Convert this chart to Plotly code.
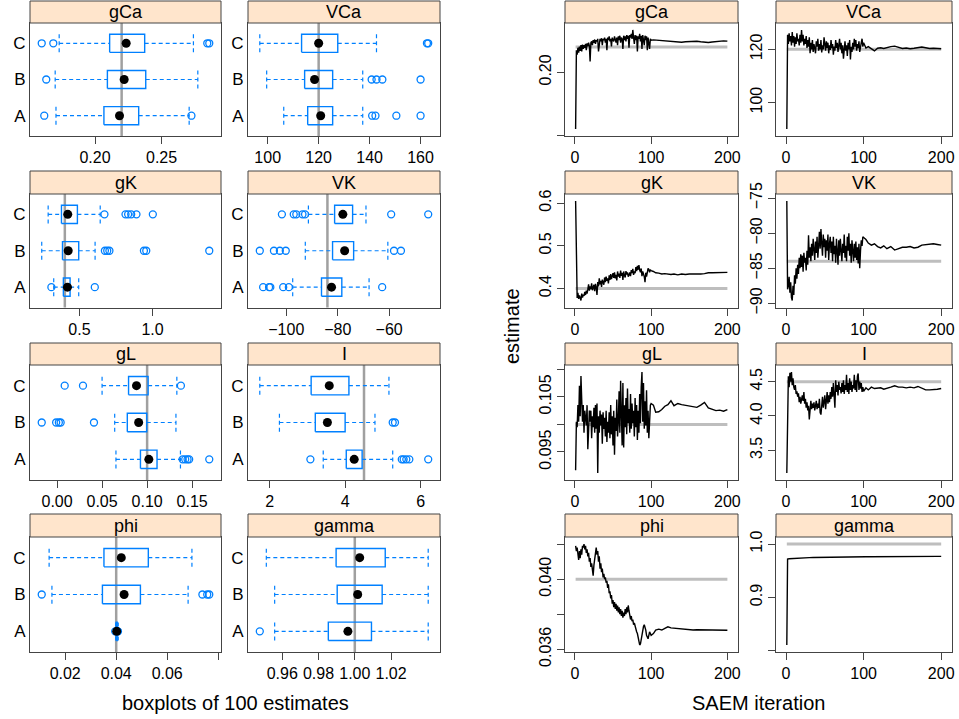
import plotly.graph_objects as go

W, H = 959, 719
groups = ['A', 'B', 'C']
params = ['gCa', 'VCa', 'gK', 'VK', 'gL', 'I', 'phi', 'gamma']
true_vals = [0.22, 120, 0.4, -84, 0.1, 4.5, 0.04, 1.0]

# ---- boxplot statistics: rows A, B, C -> [lower whisker, Q1, median, Q3, upper whisker]
gCa_stats = [[0.1707, 0.2067, 0.2184, 0.2328, 0.2707],
             [0.1701, 0.2093, 0.2219, 0.2381, 0.2772],
             [0.1731, 0.2110, 0.2234, 0.2373, 0.2739]]
gCa_out = [[0.1619, 0.2724], [0.1634], [0.1600, 0.1687, 0.2843, 0.2858]]

VCa_stats = [[106.3, 115.7, 120.8, 125.5, 137.3],
             [99.6, 114.5, 118.4, 125.5, 137.3],
             [96.9, 113.3, 120.0, 127.5, 142.7]]
VCa_out = [[141.0, 142.3, 150.5, 160.0], [140.8, 142.7, 145.0, 160.0], [162.5, 163.0]]

gK_stats = [[0.324, 0.390, 0.418, 0.436, 0.495],
            [0.242, 0.384, 0.423, 0.495, 0.607],
            [0.286, 0.377, 0.420, 0.486, 0.642]]
gK_out = [[0.308, 0.605], [0.674, 0.690, 0.705, 0.941, 0.957, 1.388],
          [0.671, 0.815, 0.833, 0.854, 0.890, 1.002]]

VK_stats = [[-97.5, -86.3, -82.4, -78.4, -67.8],
            [-92.6, -82.0, -77.3, -73.8, -60.5],
            [-91.4, -81.2, -78.0, -74.2, -69.0]]
VK_out = [[-109.0, -106.7, -106.2, -101.2, -99.0, -62.7],
          [-110.3, -104.8, -102.5, -100.2, -58.1, -55.4],
          [-101.7, -97.1, -96.1, -93.7, -92.7, -59.2, -44.8]]

gL_stats = [[0.0654, 0.0926, 0.1019, 0.1110, 0.1370],
            [0.0640, 0.0780, 0.0906, 0.0996, 0.1320],
            [0.0500, 0.0794, 0.0882, 0.1011, 0.1330]]
gL_out = [[0.1394, 0.1423, 0.1449, 0.1467, 0.1690],
          [-0.0170, -0.0010, 0.0020, 0.0040, 0.0410],
          [0.0085, 0.0288, 0.1375]]

I_stats = [[3.42, 4.03, 4.24, 4.45, 5.26],
           [2.26, 3.21, 3.53, 4.00, 4.79],
           [1.74, 3.10, 3.58, 4.10, 5.16]]
I_out = [[3.08, 5.50, 5.55, 5.62, 5.70, 6.20], [5.26, 5.32], []]

phi_stats = [[0.0398, 0.0400, 0.0402, 0.0404, 0.0408],
             [0.0148, 0.0346, 0.0431, 0.0495, 0.0682],
             [0.0137, 0.0352, 0.0420, 0.0526, 0.0697]]
phi_out = [[0.0396, 0.0406, 0.0407], [0.0108, 0.0738, 0.0757, 0.0765], []]

gamma_stats = [[0.9558, 0.9854, 0.9962, 1.0092, 1.0405],
               [0.9558, 0.9903, 1.0016, 1.0151, 1.0405],
               [0.9512, 0.9897, 1.0027, 1.0168, 1.0405]]
gamma_out = [[0.9476], [], []]

# ---- box-panel x ticks
box_tickvals = [[0.20, 0.25], [100, 120, 140, 160], [0.5, 1.0], [-100, -80, -60],
                [0.00, 0.05, 0.10, 0.15], [2, 4, 6], [0.02, 0.04, 0.06, 0.08],
                [0.96, 0.98, 1.00, 1.02]]
box_ticktext = [['0.20', '0.25'], ['100', '120', '140', '160'], ['0.5', '1.0'],
                ['\u2212100', '\u221280', '\u221260'], ['0.00', '0.05', '0.10', '0.15'],
                ['2', '4', '6'], ['0.02', '0.04', '0.06', ''], ['0.96', '0.98', '1.00', '1.02']]

# ---- SAEM traces
early_iter = list(range(1, 101))
late_iter = [103, 106, 110, 114, 118, 122, 126, 130, 135, 140, 145, 150, 155, 160,
             165, 170, 175, 180, 185, 190, 195, 200]

gCa_early = [0.155, 0.2175, 0.214, 0.2195, 0.2155, 0.2205, 0.217, 0.2215, 0.2165, 0.222,
             0.2185, 0.2215, 0.2195, 0.2225, 0.2175, 0.223, 0.2205, 0.2235, 0.221, 0.2085,
             0.2235, 0.2245, 0.2215, 0.2255, 0.2235, 0.226, 0.2225, 0.2255, 0.2245, 0.2265,
             0.2165, 0.2255, 0.2265, 0.2245, 0.227, 0.2215, 0.2265, 0.2255, 0.2275, 0.2235,
             0.2265, 0.2175, 0.2275, 0.2255, 0.2285, 0.2245, 0.2265, 0.2205, 0.2275, 0.2255,
             0.2245, 0.2285, 0.2265, 0.2235, 0.2275, 0.2215, 0.2285, 0.2255, 0.229, 0.2235,
             0.2275, 0.2265, 0.2185, 0.229, 0.2255, 0.2285, 0.2245, 0.2295, 0.2265, 0.229,
             0.2195, 0.2295, 0.2275, 0.2305, 0.2265, 0.2336, 0.2275, 0.2225, 0.2295, 0.2255,
             0.229, 0.2165, 0.2285, 0.2265, 0.2305, 0.2245, 0.229, 0.2185, 0.2295, 0.2265,
             0.2215, 0.229, 0.2255, 0.2285, 0.2175, 0.2275, 0.2245, 0.2185, 0.2265, 0.2255]
gCa_late = [0.2257, 0.2255, 0.2252, 0.2254, 0.2250, 0.2247, 0.2244, 0.2240, 0.2236, 0.2238,
            0.2242, 0.2245, 0.2243, 0.2246, 0.2242, 0.2238, 0.2236, 0.2240, 0.2244, 0.2247,
            0.2249, 0.2247]

VCa_early = [90, 125.5, 122, 126, 123, 125, 121.5, 126.5, 122.5, 125,
             121, 124.5, 122, 126, 123, 124, 121.5, 125.5, 122.5, 127.3,
             123, 125.5, 121.5, 124, 122, 125, 120.5, 123.5, 121, 124.5,
             118.5, 122.5, 120, 123.5, 119, 122, 120.5, 118.5, 123, 121,
             124, 119.5, 122, 120, 123.5, 118.8, 121.5, 120, 124.5, 121,
             119.5, 123, 120.5, 122.5, 118.5, 121.5, 119.8, 123.5, 120.5, 122,
             118, 121, 119.5, 123.5, 120.5, 122.5, 119, 121.5, 124, 120,
             122.5, 118.5, 121.5, 116.5, 120.5, 123, 119.5, 121.5, 117.5, 122.5,
             120, 123.5, 116.2, 121, 119, 122.5, 120, 124, 121, 123.5,
             119.5, 122, 120.5, 123, 119, 121.5, 122.5, 124, 121, 122.5]
VCa_late = [120.5, 121, 120.2, 119.4, 120.4, 120.6, 120.3, 120.7, 121, 121.2, 120.6,
            120.3, 120.5, 120.2, 120.4, 120.7, 120.9, 120.6, 120.3, 120.4, 120.3, 120.2]

gK_early = [0.605, 0.385, 0.378, 0.39, 0.376, 0.384, 0.38, 0.372, 0.388, 0.379,
            0.386, 0.383, 0.392, 0.385, 0.395, 0.388, 0.398, 0.41, 0.395, 0.405,
            0.399, 0.412, 0.396, 0.404, 0.409, 0.394, 0.411, 0.403, 0.385, 0.415,
            0.405, 0.424, 0.41, 0.418, 0.404, 0.421, 0.413, 0.409, 0.426, 0.415,
            0.428, 0.418, 0.424, 0.412, 0.431, 0.42, 0.434, 0.422, 0.429, 0.436,
            0.425, 0.438, 0.424, 0.432, 0.419, 0.44, 0.428, 0.435, 0.425, 0.442,
            0.43, 0.437, 0.42, 0.44, 0.431, 0.426, 0.441, 0.433, 0.438, 0.428,
            0.432, 0.438, 0.429, 0.443, 0.436, 0.446, 0.432, 0.44, 0.436, 0.45,
            0.441, 0.453, 0.444, 0.455, 0.443, 0.438, 0.447, 0.429, 0.44, 0.434,
            0.428, 0.415, 0.437, 0.428, 0.441, 0.447, 0.445, 0.438, 0.444, 0.442]
gK_late = [0.440, 0.437, 0.436, 0.434, 0.435, 0.434, 0.433, 0.434, 0.432, 0.434, 0.433,
           0.434, 0.434, 0.433, 0.434, 0.435, 0.437, 0.437, 0.437, 0.438, 0.438, 0.438]

VK_early = [-75.4, -88, -87.5, -86.2, -88.5, -87, -89.2, -89.6, -87.5, -88.8,
            -86, -87.2, -85, -86.5, -84.5, -85.8, -83.5, -85, -83, -84.8,
            -83.2, -85.5, -82.8, -84.2, -83.5, -85.3, -82.5, -84.5, -80.3, -83.5,
            -82, -84, -81.5, -83.2, -80.8, -82.5, -83.8, -81.2, -82.8, -80.5,
            -83.5, -81.8, -79.8, -82.2, -79.4, -81.5, -83.2, -80.2, -82, -80.8,
            -83.5, -81, -82.5, -80.2, -83.8, -81.5, -80.5, -82.8, -81.2, -84,
            -80.5, -83, -81.8, -84.2, -80.8, -82.5, -84.5, -81, -83.2, -80.8,
            -82.2, -84, -81.5, -82.8, -80.2, -83.5, -81.8, -84, -80.5, -82.5,
            -80, -83.2, -81.5, -84.2, -81, -82.8, -84, -81.5, -83.5, -81.2,
            -83.8, -82, -84.3, -81.5, -85, -82.5, -81, -81.8, -80.5, -80.6]
VK_late = [-80.9, -81.4, -81.7, -81.5, -81.9, -82.1, -81.8, -82.2, -81.9, -82.4, -82.2,
           -82.0, -82.0, -81.9, -82.1, -82.0, -81.7, -81.6, -81.5, -81.5, -81.6, -81.7]

gL_early = [0.0917, 0.1005, 0.0995, 0.1035, 0.1005, 0.107, 0.1015, 0.1088, 0.1045, 0.1005,
            0.1035, 0.0985, 0.1025, 0.1015, 0.0998, 0.1035, 0.0955, 0.0988, 0.1025, 0.1005,
            0.1025, 0.0975, 0.1015, 0.0995, 0.103, 0.0985, 0.1035, 0.0992, 0.1038, 0.0912,
            0.1015, 0.0985, 0.1025, 0.0998, 0.1018, 0.0965, 0.1022, 0.0992, 0.1012, 0.0978,
            0.1025, 0.0968, 0.1005, 0.0985, 0.1022, 0.0975, 0.1035, 0.0982, 0.1015, 0.0962,
            0.1025, 0.0945, 0.1012, 0.0988, 0.1045, 0.0978, 0.1005, 0.106, 0.0985, 0.1079,
            0.1015, 0.0962, 0.1075, 0.0958, 0.1035, 0.0995, 0.1048, 0.0982, 0.1065, 0.1002,
            0.1028, 0.0985, 0.1055, 0.0992, 0.1038, 0.1002, 0.1025, 0.0978, 0.1048, 0.0995,
            0.1035, 0.0972, 0.1025, 0.0985, 0.1055, 0.1002, 0.1068, 0.1095, 0.1005, 0.1075,
            0.0992, 0.1042, 0.0998, 0.1062, 0.0985, 0.1025, 0.0975, 0.1018, 0.1035, 0.1038]
gL_late = [0.1035, 0.1022, 0.1023, 0.1027, 0.1033, 0.1036, 0.1043, 0.1034, 0.1038, 0.1036,
           0.1035, 0.1034, 0.1033, 0.1031, 0.1035, 0.1040, 0.1030, 0.1028, 0.1025, 0.1026,
           0.1024, 0.1027]

I_early = [3.17, 4.45, 4.58, 4.42, 4.63, 4.5, 4.64, 4.45, 4.55, 4.42,
           4.38, 4.45, 4.32, 4.36, 4.28, 4.33, 4.2, 4.28, 4.18, 4.24,
           4.3, 4.22, 4.35, 4.18, 4.25, 4.12, 4.2, 4.08, 4.15, 3.95,
           4.12, 4.22, 4.1, 4.18, 4.12, 4.2, 4.08, 4.15, 4.22, 4.1,
           4.18, 4.12, 4.25, 4.05, 4.02, 4.15, 4.28, 4.12, 4.22, 4.3,
           4.1, 4.25, 4.35, 4.18, 4.3, 4.2, 4.35, 4.25, 4.42, 4.28,
           4.48, 4.3, 4.12, 4.52, 4.35, 4.45, 4.3, 4.5, 4.38, 4.42,
           4.33, 4.48, 4.35, 4.52, 4.32, 4.45, 4.38, 4.6, 4.35, 4.48,
           4.32, 4.55, 4.38, 4.5, 4.35, 4.45, 4.4, 4.6, 4.38, 4.52,
           4.35, 4.58, 4.62, 4.38, 4.5, 4.4, 4.48, 4.35, 4.42, 4.36]
I_late = [4.41, 4.38, 4.42, 4.40, 4.41, 4.41, 4.39, 4.40, 4.42, 4.44, 4.42,
          4.42, 4.41, 4.42, 4.41, 4.43, 4.40, 4.38, 4.38, 4.38, 4.39, 4.40]

phi_early = [0.0419, 0.0416, 0.0418, 0.0413, 0.0411, 0.0416, 0.0412, 0.0417, 0.0414, 0.0419,
             0.0418, 0.042, 0.0417, 0.0419, 0.0415, 0.0417, 0.0413, 0.0415, 0.041, 0.0412,
             0.0407, 0.0409, 0.0404, 0.0402, 0.0408, 0.0411, 0.0415, 0.0418, 0.0414, 0.0416,
             0.041, 0.0413, 0.0406, 0.0409, 0.0404, 0.0406, 0.0401, 0.0403, 0.04, 0.0401,
             0.0398, 0.0399, 0.0395, 0.0397, 0.0392, 0.0393, 0.0389, 0.0391, 0.0386, 0.0388,
             0.0384, 0.0387, 0.0383, 0.0386, 0.0382, 0.0385, 0.0381, 0.0384, 0.038, 0.0383,
             0.0379, 0.0382, 0.0378, 0.0381, 0.0379, 0.0383, 0.038, 0.0384, 0.0381, 0.0385,
             0.0382, 0.0379, 0.0377, 0.0379, 0.0376, 0.0377, 0.0374, 0.0375, 0.0373, 0.0372,
             0.037, 0.0369, 0.0367, 0.0364, 0.03625, 0.0363, 0.0366, 0.0369, 0.0371, 0.0373,
             0.0374, 0.0373, 0.0371, 0.0368, 0.0367, 0.0366, 0.0368, 0.037, 0.0369, 0.0368]
phi_late = [0.0369, 0.0371, 0.03715, 0.0371, 0.0372, 0.03728, 0.03722, 0.0372, 0.03718,
            0.03716, 0.03714, 0.0371, 0.0371, 0.03712, 0.03712, 0.0371, 0.03712, 0.03711,
            0.0371, 0.03711, 0.0371, 0.03709]

gamma_iter = [1, 2, 4, 8, 12, 16, 20, 25, 30, 35, 40, 45, 50, 55, 60, 65, 70, 75, 80,
              85, 90, 95, 100]
gamma_early = [0.811, 0.972, 0.9725, 0.973, 0.9735, 0.9738, 0.974, 0.9743, 0.9745, 0.9748,
               0.975, 0.9752, 0.9753, 0.9755, 0.9756, 0.9757, 0.9758, 0.9758, 0.976, 0.976,
               0.9761, 0.9762, 0.9762]
gamma_late = [0.9763, 0.9763, 0.9764, 0.9764, 0.9765, 0.9765, 0.9765, 0.9766, 0.9766, 0.9766,
              0.9767, 0.9767, 0.9767, 0.9768, 0.9768, 0.9768, 0.9769, 0.9769, 0.9769, 0.977,
              0.977, 0.977]

tr_tickvals = [[0.15, 0.20], [100, 120], [0.4, 0.5, 0.6], [-90, -85, -80, -75],
               [0.095, 0.100, 0.105, 0.110], [3.5, 4.0, 4.5], [0.036, 0.038, 0.040, 0.042],
               [0.8, 0.9, 1.0]]
tr_ticktext = [['', '0.20'], ['100', '120'], ['0.4', '0.5', '0.6'],
               ['\u221290', '\u221285', '\u221280', '\u221275'], ['0.095', '', '0.105', ''],
               ['3.5', '4.0', '4.5'], ['0.036', '', '0.040', ''], ['', '0.9', '1.0']]

box_stats = [gCa_stats, VCa_stats, gK_stats, VK_stats, gL_stats, I_stats, phi_stats, gamma_stats]
box_out = [gCa_out, VCa_out, gK_out, VK_out, gL_out, I_out, phi_out, gamma_out]
tr_x = [early_iter + late_iter] * 7 + [gamma_iter + late_iter]
tr_y = [gCa_early + gCa_late, VCa_early + VCa_late, gK_early + gK_late, VK_early + VK_late,
        gL_early + gL_late, I_early + I_late, phi_early + phi_late, gamma_early + gamma_late]

# ---- geometry (pixels)
col_box = [(30, 221), (248, 440)]
col_tr = [(565, 738), (776, 952)]
rows = [(1, 23, 136), (171, 194, 307.5), (343, 365, 480), (514, 537, 652)]

def fx(p):
    return p / W

def fy(p):
    return 1 - p / H

FONT = 'Liberation Sans, Arial, sans-serif'
BLUE = '#0080ff'
FRAME = '#444444'
BH = 0.25
PAD = 0.07

fig = go.Figure()
layout = dict(template='none', width=W, height=H, autosize=False,
              margin=dict(l=0, r=0, t=0, b=0, pad=0),
              paper_bgcolor='white', plot_bgcolor='white', showlegend=False,
              font=dict(family=FONT, size=16, color='black'))
shapes, annotations = [], []

def padded(lo, hi):
    d = (hi - lo) * PAD
    return [lo - d, hi + d]

def add_strip(x0, x1, r, name):
    st, pt, _ = r
    shapes.append(dict(type='rect', xref='paper', yref='paper', x0=fx(x0), x1=fx(x1),
                       y0=fy(pt), y1=fy(st), fillcolor='#FFE5CC',
                       line=dict(color=FRAME, width=1), layer='above'))
    annotations.append(dict(xref='paper', yref='paper', x=fx((x0 + x1) / 2), y=fy((st + pt) / 2),
                            text=name, showarrow=False, font=dict(size=18, family=FONT),
                            xanchor='center', yanchor='middle'))

axis_common = dict(showline=True, mirror=True, linecolor=FRAME, linewidth=1, automargin=False,
                   showgrid=False, zeroline=False, tickcolor=FRAME, tickwidth=1)

n = 0
for i, name in enumerate(params):
    r = rows[i // 2]
    n += 1
    x0, x1 = col_box[i % 2]
    stats, outs = box_stats[i], box_out[i]
    allv = [v for s in stats for v in s] + [v for o in outs for v in o] + [true_vals[i]]
    xa = 'xaxis' if n == 1 else f'xaxis{n}'
    ya = 'yaxis' if n == 1 else f'yaxis{n}'
    xr, yr = ('x' if n == 1 else f'x{n}'), ('y' if n == 1 else f'y{n}')
    layout[xa] = dict(domain=[fx(x0), fx(x1)], range=padded(min(allv), max(allv)), anchor=yr,
                      tickvals=box_tickvals[i], ticktext=box_ticktext[i], ticks='outside',
                      ticklen=7, tickfont=dict(size=16), **axis_common)
    layout[ya] = dict(domain=[fy(r[2]), fy(r[1])], range=[0.44, 3.56], anchor=xr,
                      tickvals=[1, 2, 3], ticktext=groups, ticks='', ticklen=0,
                      tickfont=dict(size=17), **axis_common)
    shapes.append(dict(type='line', xref=xr, yref=f'{yr} domain', x0=true_vals[i], x1=true_vals[i],
                       y0=0, y1=1, line=dict(color='#A0A0A0', width=2.5), layer='below'))
    for k, (s, o) in enumerate(zip(stats, outs), start=1):
        lo, q1, med, q3, hi = s
        fig.add_trace(go.Scatter(x=[lo, q1, None, q3, hi], y=[k, k, None, k, k], mode='lines',
                                 line=dict(color=BLUE, width=1.2, dash='4px,3px'),
                                 xaxis=xr, yaxis=yr, hoverinfo='skip'))
        fig.add_trace(go.Scatter(x=[lo, lo, None, hi, hi], y=[k - BH, k + BH, None, k - BH, k + BH],
                                 mode='lines', line=dict(color=BLUE, width=1.2, dash='4px,3px'),
                                 xaxis=xr, yaxis=yr, hoverinfo='skip'))
        fig.add_trace(go.Scatter(x=[q1, q3, q3, q1, q1], y=[k - BH, k - BH, k + BH, k + BH, k - BH],
                                 mode='lines', line=dict(color=BLUE, width=1.4),
                                 xaxis=xr, yaxis=yr, hoverinfo='skip'))
        if o:
            fig.add_trace(go.Scatter(x=o, y=[k] * len(o), mode='markers',
                                     marker=dict(symbol='circle-open', size=7, color=BLUE,
                                                 line=dict(width=1.3, color=BLUE)),
                                     xaxis=xr, yaxis=yr))
        fig.add_trace(go.Scatter(x=[med], y=[k], mode='markers',
                                 marker=dict(symbol='circle', size=9, color='black'),
                                 xaxis=xr, yaxis=yr))
    add_strip(x0, x1, r, name)

for i, name in enumerate(params):
    r = rows[i // 2]
    n += 1
    x0, x1 = col_tr[i % 2]
    xs, ys = tr_x[i], tr_y[i]
    allv = ys + [true_vals[i]]
    xa, ya = f'xaxis{n}', f'yaxis{n}'
    xr, yr = f'x{n}', f'y{n}'
    layout[xa] = dict(domain=[fx(x0), fx(x1)], range=padded(min(xs), max(xs)), anchor=yr,
                      tickvals=[0, 100, 200], ticks='outside', ticklen=7,
                      tickfont=dict(size=16), **axis_common)
    layout[ya] = dict(domain=[fy(r[2]), fy(r[1])], range=padded(min(allv), max(allv)), anchor=xr,
                      tickvals=tr_tickvals[i], ticktext=tr_ticktext[i], ticks='outside',
                      ticklen=7, tickangle=-90, tickfont=dict(size=16), **axis_common)
    fig.add_trace(go.Scatter(x=[min(xs), max(xs)], y=[true_vals[i]] * 2, mode='lines',
                             line=dict(color='#BEBEBE', width=3), xaxis=xr, yaxis=yr,
                             hoverinfo='skip'))
    fig.add_trace(go.Scatter(x=xs, y=ys, mode='lines', line=dict(color='black', width=1.4),
                             xaxis=xr, yaxis=yr))
    add_strip(x0, x1, r, name)

annotations.append(dict(xref='paper', yref='paper', x=fx(235), y=fy(703), text='boxplots of 100 estimates',
                        showarrow=False, font=dict(size=20, family=FONT), xanchor='center', yanchor='middle'))
annotations.append(dict(xref='paper', yref='paper', x=fx(758), y=fy(703), text='SAEM iteration',
                        showarrow=False, font=dict(size=20, family=FONT), xanchor='center', yanchor='middle'))
annotations.append(dict(xref='paper', yref='paper', x=fx(512), y=fy(326), text='estimate', textangle=-90,
                        showarrow=False, font=dict(size=20, family=FONT), xanchor='center', yanchor='middle'))

layout['shapes'] = shapes
layout['annotations'] = annotations
fig.update_layout(**layout)
fig.write_html('out.html', config={'displayModeBar': False},
               post_script="document.body.style.margin='0px';document.body.style.overflow='hidden';")
